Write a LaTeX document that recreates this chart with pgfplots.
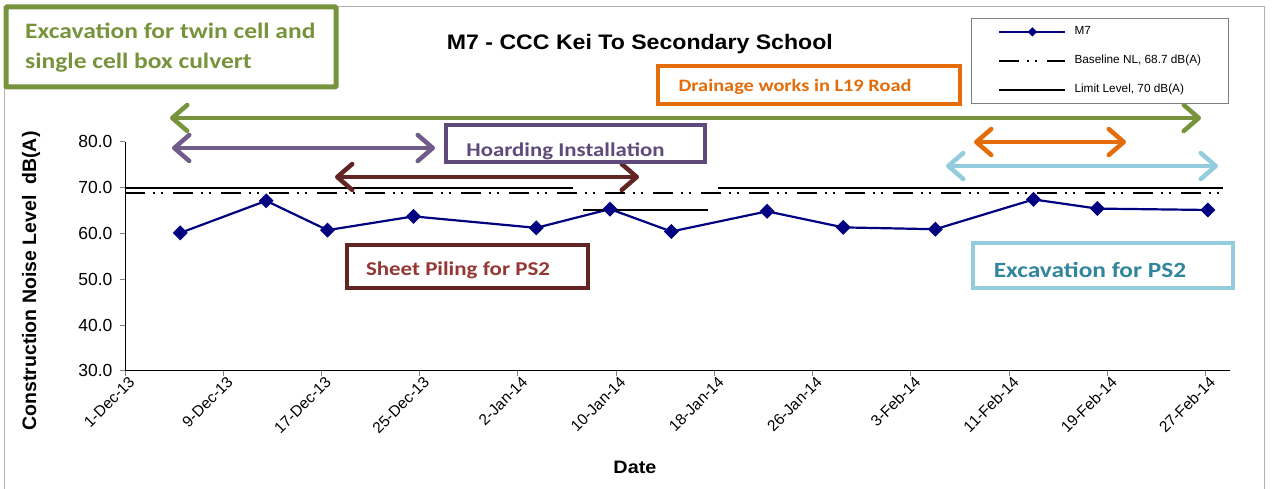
\documentclass[border=0pt]{standalone}
\usepackage{fontspec}
\setmainfont{Liberation Sans}
\newfontfamily\calibri{Carlito}
\usepackage{pgfplots}
\pgfplotsset{compat=1.18}
\usetikzlibrary{arrows.meta}

\definecolor{m7blue}{HTML}{000080}
\definecolor{exgreen}{HTML}{77933C}
\definecolor{hpurple}{HTML}{604A7B}
\definecolor{spred}{HTML}{632523}
\definecolor{sptext}{HTML}{953735}
\definecolor{dorange}{HTML}{E46C0A}
\definecolor{lblue}{HTML}{93CDDD}
\definecolor{lbtext}{HTML}{31859C}

\begin{document}
\begin{tikzpicture}[x=1pt,y=1pt]
\useasboundingbox (0,0) rectangle (1273,488);
\draw[gray!60, line width=0.8pt] (4,-5) rectangle (1264,482);
\begin{axis}[
  at={(125pt,117.2pt)}, anchor=south west,
  scale only axis, width=1105pt, height=229.1pt,
  xmin=0, xmax=90, ymin=30, ymax=80,
  axis x line*=bottom, axis y line*=left,
  axis line style={line width=1pt, -},
  xtick={0,8,...,88},
  xticklabels={1-Dec-13,9-Dec-13,17-Dec-13,25-Dec-13,2-Jan-14,10-Jan-14,18-Jan-14,26-Jan-14,3-Feb-14,11-Feb-14,19-Feb-14,27-Feb-14},
  ytick={30,40,...,80},
  tick align=outside, major tick length=5pt,
  tick style={gray, line width=0.8pt},
  /pgf/number format/assume math mode=true,
  yticklabel style={/pgf/number format/fixed, /pgf/number format/fixed zerofill, /pgf/number format/precision=1, font=\fontsize{17.5}{20}\selectfont, xshift=-4pt},
  xticklabel style={font=\fontsize{15.5}{18}\selectfont, rotate=45, anchor=north east, inner sep=1.5pt, xshift=4pt},
  xlabel={Date},
  xlabel style={at={(axis description cs:0.4615,-0.42)}, anchor=center, font=\bfseries\fontsize{18}{20}\selectfont, xscale=1.1},
  ylabel={Construction Noise Level\ \ dB(A)},
  ylabel style={at={(axis description cs:-0.085,0.392)}, rotate=0, anchor=center, font=\bfseries\fontsize{19.5}{22}\selectfont},
  title={M7 - CCC Kei To Secondary School},
  title style={at={(axis description cs:0.466,1.40)}, anchor=center, font=\bfseries\fontsize{21}{24}\selectfont, xscale=1.1},
  legend style={at={(axis description cs:0.7656,1.54)}, anchor=north west, draw=gray, line width=0.7pt,
    font=\fontsize{11.8}{13}\selectfont, inner xsep=27pt, inner ysep=8pt, row sep=18pt,
    nodes={inner sep=0pt, text height=8.5pt, text depth=2.5pt},
    /tikz/every odd column/.append style={column sep=8pt}},
  legend cell align=left,
  legend image code/.code={\draw[mark repeat=2,mark phase=2,#1, mark size=2.2pt] plot coordinates {(0pt,0pt) (33pt,0pt) (66pt,0pt)};},
]
\addplot[color=m7blue, line width=2.2pt, mark=square*, mark size=4.2pt, mark options={rotate=45, solid}]
  coordinates {(4.5,60.1) (11.5,67.1) (16.5,60.7) (23.5,63.7) (33.5,61.2) (39.5,65.3) (44.5,60.4) (52.3,64.8) (58.5,61.3) (66,60.9) (74,67.4) (79.2,65.4) (88.2,65.1)};
\addlegendentry{M7}
\addplot[black, line width=2pt, dash pattern=on 20pt off 8pt on 2pt off 6pt on 2pt off 10pt]
  coordinates {(0,68.7) (89.4,68.7)};
\addlegendentry{Baseline NL, 68.7 dB(A)}
\addplot[black, line width=2pt] coordinates {(0,70) (36.5,70)};
\addlegendentry{Limit Level, 70 dB(A)}
\addplot[black, line width=2pt, forget plot] coordinates {(37.3,65.1) (47.45,65.1)};
\addplot[black, line width=2pt, forget plot] coordinates {(48.3,70) (89.4,70)};
\end{axis}

% annotation arrows
\tikzset{harr/.style={line width=4.5pt, line cap=round, {Straight Barb[length=15pt,width=26pt,line width=4.5pt,round]}-{Straight Barb[length=15pt,width=26pt,line width=4.5pt,round]}}}
\draw[harr, exgreen] (170,370) -- (1201,370);
\draw[harr, hpurple!90] (172,340) -- (435,340);
\draw[harr, spred] (335,311) -- (639,311);
\draw[harr, dorange] (974,346) -- (1126,346);
\draw[harr, lblue] (946,322) -- (1218,322);

% annotation boxes
\draw[exgreen, line width=5pt, rounded corners=1pt, fill=white] (6,401) rectangle (336,481);
\node[anchor=west, text=exgreen, font=\calibri\bfseries\fontsize{22}{26}\selectfont, xscale=1.16, inner sep=0pt] at (25,457) {Excavation for twin cell and};
\node[anchor=west, text=exgreen, font=\calibri\bfseries\fontsize{22}{26}\selectfont, xscale=1.16, inner sep=0pt] at (25,425) {single cell box culvert};

\draw[dorange, line width=4pt, fill=white] (658,384) rectangle (960,422);
\node[text=dorange, font=\calibri\bfseries\fontsize{17.4}{20}\selectfont, xscale=1.17] at (795,401) {Drainage works in L19 Road};

\draw[hpurple, line width=4pt, fill=white] (446,326) rectangle (705,363);
\node[text=hpurple, font=\calibri\bfseries\fontsize{19.5}{22}\selectfont, xscale=1.17] at (565.5,337) {Hoarding Installation};

\draw[spred, line width=4pt, fill=white] (347,200) rectangle (588,243);
\node[text=sptext, font=\calibri\bfseries\fontsize{19.6}{22}\selectfont, xscale=1.17] at (458,218) {Sheet Piling for PS2};

\draw[lblue, line width=4pt, fill=white] (973,200) rectangle (1233,245);
\node[text=lbtext, font=\calibri\bfseries\fontsize{21.7}{24}\selectfont, xscale=1.17] at (1090,218) {Excavation for PS2};
\end{tikzpicture}
\end{document}
